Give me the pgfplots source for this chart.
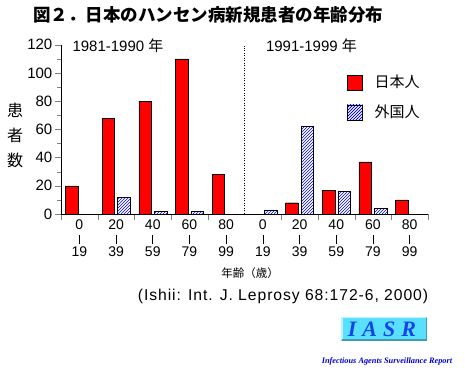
\documentclass[border=0pt]{standalone}
\usepackage{pgfplots}
\pgfplotsset{compat=1.18}
\usetikzlibrary{patterns}
\usepackage{fontspec}
\setmainfont{Liberation Sans}
\newfontfamily\cjk{Noto Sans CJK JP}
\newfontfamily\lserif{Liberation Serif}
\newfontfamily\citefont[LetterSpace=6]{Liberation Sans}
\definecolor{logocyan}{RGB}{90,224,255}
\definecolor{logoblue}{RGB}{20,70,230}
\newcommand{\vb}{\rule[-1pt]{0.7pt}{9pt}}
\begin{document}
\begin{tikzpicture}
\path (0pt,0pt) rectangle (465pt,371pt);
\begin{axis}[
  at={(61pt,157pt)}, anchor=south west,
  scale only axis, width=367pt, height=169.3pt,
  xmin=0, xmax=10, ymin=0, ymax=120,
  axis x line*=bottom, axis y line*=left,
  axis line style={-, black},
  tick align=outside,
  major tick length=6.5pt, minor tick length=4pt,
  ytick={0,20,...,120}, minor y tick num=1,
  xtick={0,1,2,3,4,6,7,8,9,10}, xticklabels={},
  extra x ticks={0.5,1.5,2.5,3.5,4.5,5.5,6.5,7.5,8.5,9.5},
  extra x tick labels={{0\\\vb\\19},{20\\\vb\\39},{40\\\vb\\59},{60\\\vb\\79},{80\\\vb\\99},{0\\\vb\\19},{20\\\vb\\39},{40\\\vb\\59},{60\\\vb\\79},{80\\\vb\\99}},
  extra x tick style={major tick length=0pt, tick style={draw=none},
     xticklabel style={align=center, font=\fontsize{14}{13.5}\selectfont, anchor=north, yshift=-2.5pt}},
  /pgf/number format/assume math mode=true,
  yticklabel style={font=\fontsize{15}{16}\selectfont, inner sep=1pt, xshift=-1pt},
  legend style={at={(rel axis cs:0.779,0.833)}, anchor=north west, draw=none, fill=none,
     font=\cjk\fontsize{15}{16}\selectfont, row sep=12pt, column sep=10pt, inner sep=0pt},
  legend cell align=left,
]
\addplot[ybar, bar width=12.5pt, bar shift=-7.75pt, fill=red, draw=black,
  legend image code/.code={\draw[fill=red,draw=black] (0pt,-7.5pt) rectangle (15pt,7.5pt);}]
  coordinates {(0.5,20)(1.5,68)(2.5,80)(3.5,110)(4.5,28)(6.5,8)(7.5,17)(8.5,37)(9.5,10)};
\addlegendentry{日本人}
\addplot[ybar, bar width=12.5pt, bar shift=7.75pt, fill=white, draw=black,
  postaction={pattern=north east lines, pattern color=blue},
  legend image code/.code={\draw[fill=white,draw=black,postaction={pattern=north east lines, pattern color=blue}] (0pt,-7.5pt) rectangle (15pt,7.5pt);}]
  coordinates {(1.5,12)(2.5,2)(3.5,2)(5.5,3)(6.5,62)(7.5,16)(8.5,4)};
\addlegendentry{外国人}
\draw[black, line width=0.5pt, dash pattern=on 1pt off 1.5pt] (axis cs:5,0) -- (axis cs:5,119);
\end{axis}
% title
\node at (208pt,356pt) {\cjk\bfseries\fontsize{17.5}{20}\selectfont 図２．日本のハンセン病新規患者の年齢分布};
% period labels
\node at (118pt,325pt) {\fontsize{15}{16}\selectfont 1981-1990 {\cjk 年}};
\node at (311.5pt,325pt) {\fontsize{15}{16}\selectfont 1991-1999 {\cjk 年}};
% y label
\node at (15pt,261pt) {\cjk\fontsize{16}{16}\selectfont 患};
\node at (15pt,236pt) {\cjk\fontsize{16}{16}\selectfont 者};
\node at (15pt,211pt) {\cjk\fontsize{16}{16}\selectfont 数};
% x label
\node at (250pt,98pt) {\cjk\fontsize{11.5}{12}\selectfont 年齢（歳）};
% citation
\node at (283pt,75pt) {\citefont\fontsize{15.7}{17}\selectfont (Ishii: Int. J. Leprosy 68:172-6, 2000)};
% logo
\fill[logocyan] (341pt,30pt) rectangle (427pt,54pt);
\draw[line width=1.5pt, color=logocyan!40!white] (341.75pt,30.75pt) -- (341.75pt,53.25pt) -- (426.25pt,53.25pt);
\draw[line width=1.5pt, color=logocyan!70!black] (341.75pt,30.75pt) -- (426.25pt,30.75pt) -- (426.25pt,53.25pt);
\node[text=logoblue] at (382pt,42pt) {\lserif\bfseries\itshape\fontsize{22}{22}\selectfont I\hspace{6pt}A\hspace{6pt}S\hspace{6pt}R};
\node[text=blue!85!black] at (387pt,10pt) {\lserif\bfseries\itshape\fontsize{8.3}{9}\selectfont Infectious Agents Surveillance Report};
\end{tikzpicture}
\end{document}
